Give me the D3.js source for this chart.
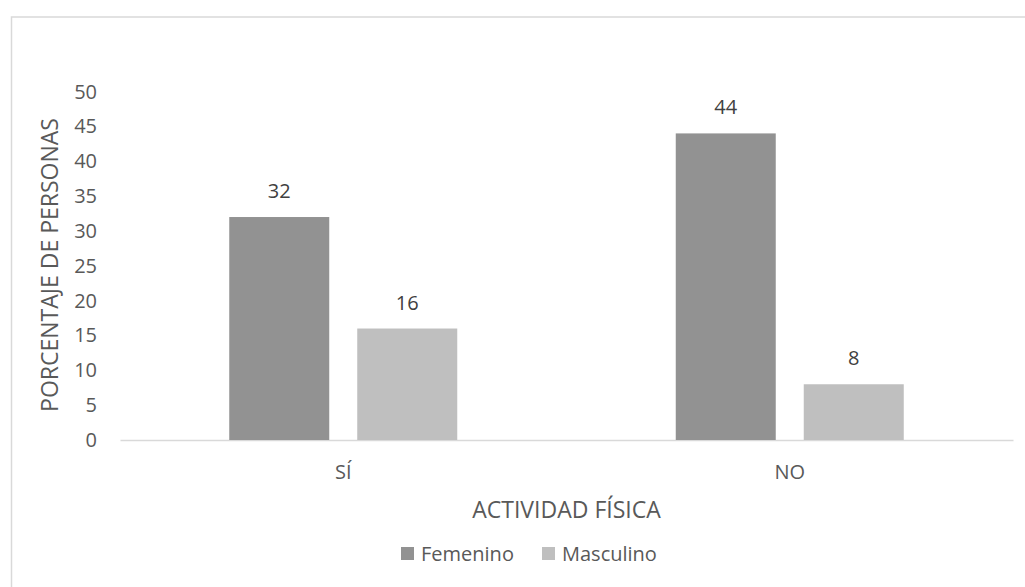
<!DOCTYPE html>
<html>
<head>
<meta charset="utf-8">
<script src="https://cdn.jsdelivr.net/npm/d3@7"></script>
<style>
  html, body { margin: 0; padding: 0; background: #fff; }
  svg { display: block; }
  text { font-family: "Open Sans", "Noto Sans", sans-serif; fill: #595959; }
</style>
</head>
<body>
<svg id="chart" width="1025" height="587"></svg>
<script>
// Physical activity by sex (percentage of people)
const categories = ["SÍ", "NO"];
const seriesNames = ["Femenino", "Masculino"];
const femenino = [32, 44];
const masculino = [16, 8];
const yTicks = [0, 5, 10, 15, 20, 25, 30, 35, 40, 45, 50];
const seriesColors = ["#929292", "#bfbfbf"];

const svg = d3.select("#chart");
const W = 1025, H = 587;

// Outer chart frame
svg.append("rect")
  .attr("x", 11.5).attr("y", 17)
  .attr("width", W + 10).attr("height", H + 10)
  .attr("fill", "#fff")
  .attr("stroke", "#d9d9d9").attr("stroke-width", 1.5);

const plot = { left: 120, right: 1013, top: 91.6, bottom: 440 };

const x = d3.scaleBand()
  .domain(categories)
  .range([plot.left, plot.right]);

const y = d3.scaleLinear()
  .domain([0, 50])
  .range([plot.bottom, plot.top]);

// Two bars of width 100 with a 28px gap, centred in each category
const barW = 100, gap = 28;
const half = barW + gap / 2;
const xs = d3.scaleBand()
  .domain(seriesNames)
  .range([-half, half])
  .paddingInner(gap / (barW + gap));

const rows = categories.map((c, i) => ({ cat: c, values: [femenino[i], masculino[i]] }));

// Y axis labels
const yAxis = svg.append("g")
  .attr("transform", `translate(${plot.left},0)`)
  .call(d3.axisLeft(y).tickValues(yTicks).tickSize(0).tickPadding(23));
yAxis.select(".domain").remove();
yAxis.selectAll("text")
  .style("font-size", "20px");

// Category axis
const xAxis = svg.append("g")
  .attr("transform", `translate(0,${plot.bottom})`)
  .call(d3.axisBottom(x).tickSize(0).tickPadding(25));
xAxis.select(".domain").attr("stroke", "#d9d9d9").attr("stroke-width", 1.5);
xAxis.selectAll("text")
  .style("font-size", "20px");

// Bars
const groups = svg.append("g").selectAll("g")
  .data(rows).join("g")
  .attr("transform", d => `translate(${x(d.cat) + x.bandwidth() / 2},0)`);

groups.selectAll("rect")
  .data(d => d.values.map((v, i) => ({ key: seriesNames[i], v, i })))
  .join("rect")
  .attr("x", d => xs(d.key))
  .attr("width", xs.bandwidth())
  .attr("y", d => y(d.v))
  .attr("height", d => y(0) - y(d.v))
  .attr("fill", d => seriesColors[d.i]);

// Value labels
groups.selectAll("text.val")
  .data(d => d.values.map((v, i) => ({ key: seriesNames[i], v, i })))
  .join("text")
  .attr("class", "val")
  .attr("x", d => xs(d.key) + xs.bandwidth() / 2)
  .attr("y", d => y(d.v) - 19)
  .attr("text-anchor", "middle")
  .style("font-size", "20px")
  .style("fill", "#404040")
  .text(d => d.v);

// Axis titles
svg.append("text")
  .attr("transform", `translate(58,265) rotate(-90)`)
  .attr("text-anchor", "middle")
  .style("font-size", "23px")
  .text("PORCENTAJE DE PERSONAS");

svg.append("text")
  .attr("x", (plot.left + plot.right) / 2)
  .attr("y", 518)
  .attr("text-anchor", "middle")
  .style("font-size", "23px")
  .text("ACTIVIDAD FÍSICA");

// Legend
const legendItems = [
  { name: seriesNames[0], color: seriesColors[0], x: 401 },
  { name: seriesNames[1], color: seriesColors[1], x: 542 }
];
const lg = svg.append("g").selectAll("g")
  .data(legendItems).join("g")
  .attr("transform", d => `translate(${d.x},547)`);
lg.append("rect")
  .attr("width", 13).attr("height", 13)
  .attr("fill", d => d.color);
lg.append("text")
  .attr("x", 20).attr("y", 14)
  .style("font-size", "20px")
  .text(d => d.name);
</script>
</body>
</html>
